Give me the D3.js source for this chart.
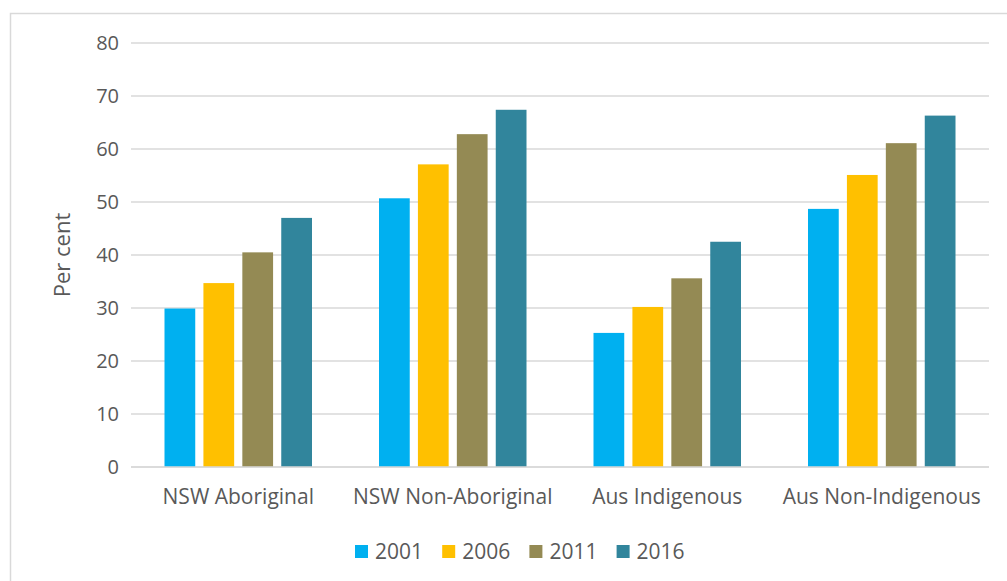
<!DOCTYPE html>
<html><head><meta charset="utf-8">
<script src="https://cdn.jsdelivr.net/npm/d3@7"></script>
<style>body{margin:0;background:#fff}svg{display:block}text{font-family:"Open Sans",sans-serif;fill:#595959}</style>
</head><body>
<script>
const categories = ["NSW Aboriginal","NSW Non-Aboriginal","Aus Indigenous","Aus Non-Indigenous"];
const years = ["2001","2006","2011","2016"];
const v2001 = [29.9, 50.7, 25.3, 48.7];
const v2006 = [34.7, 57.1, 30.2, 55.1];
const v2011 = [40.5, 62.8, 35.6, 61.1];
const v2016 = [47.0, 67.4, 42.5, 66.3];
const yTicks = [0,10,20,30,40,50,60,70,80];
const colors = ["#00B0F0","#FFC000","#948A54","#31859C"];
const seriesVals = [v2001, v2006, v2011, v2016];

(function(){
const W = 1007, H = 581;
const svg = d3.select("body").append("svg").attr("width", W).attr("height", H);
svg.append("rect").attr("x",10.5).attr("y",13.5).attr("width",W).attr("height",H).attr("fill","none").attr("stroke","#D9D9D9").attr("stroke-width",1.5);

const pLeft = 131, pRight = 989, pTop = 43, pBottom = 467;
const x0 = d3.scaleBand().domain(categories).range([pLeft, pRight]).paddingInner(0).paddingOuter(0);
const bw = x0.bandwidth();
const x1 = d3.scaleBand().domain(years).range([33.5, bw - 33.5]).paddingInner(0.21).paddingOuter(0);
const y = d3.scaleLinear().domain([0,80]).range([pBottom, pTop]);

svg.append("g").selectAll("line").data(yTicks).join("line")
  .attr("x1", pLeft).attr("x2", pRight)
  .attr("y1", d => y(d)).attr("y2", d => y(d))
  .attr("stroke", "#D9D9D9").attr("stroke-width", 1.5);

svg.append("g").selectAll("text").data(yTicks).join("text")
  .attr("x", 119).attr("y", d => y(d)).attr("dy","0.35em")
  .attr("text-anchor","end").style("font-size","20px").text(d => d);

const rows = [];
categories.forEach((c,i) => years.forEach((yr,j) => rows.push({c, yr, j, v: seriesVals[j][i]})));
svg.append("g").selectAll("rect").data(rows).join("rect")
  .attr("x", d => x0(d.c) + x1(d.yr))
  .attr("y", d => y(d.v))
  .attr("width", x1.bandwidth())
  .attr("height", d => y(0) - y(d.v))
  .attr("fill", d => colors[d.j]);

svg.append("line").attr("x1",pLeft).attr("x2",pRight).attr("y1",y(0)).attr("y2",y(0)).attr("stroke","#D9D9D9").attr("stroke-width",1.5);

svg.append("g").selectAll("text").data(categories).join("text")
  .attr("x", d => x0(d) + bw/2).attr("y", 497).attr("dy","0.35em")
  .attr("text-anchor","middle").style("font-size","21px").text(d => d);

svg.append("text").attr("transform","translate(62,255) rotate(-90)")
  .attr("text-anchor","middle").attr("dy","0.35em").style("font-size","22px").text("Per cent");

const lg = svg.append("g").selectAll("g").data(years).join("g")
  .attr("transform", (d,i) => `translate(${355 + i*87.2},545)`);
lg.append("rect").attr("width",13).attr("height",13).attr("fill",(d,i)=>colors[i]);
lg.append("text").attr("x",20).attr("y",6.5).attr("dy","0.35em").style("font-size","21px").text(d=>d);
})();
</script>
</body></html>
